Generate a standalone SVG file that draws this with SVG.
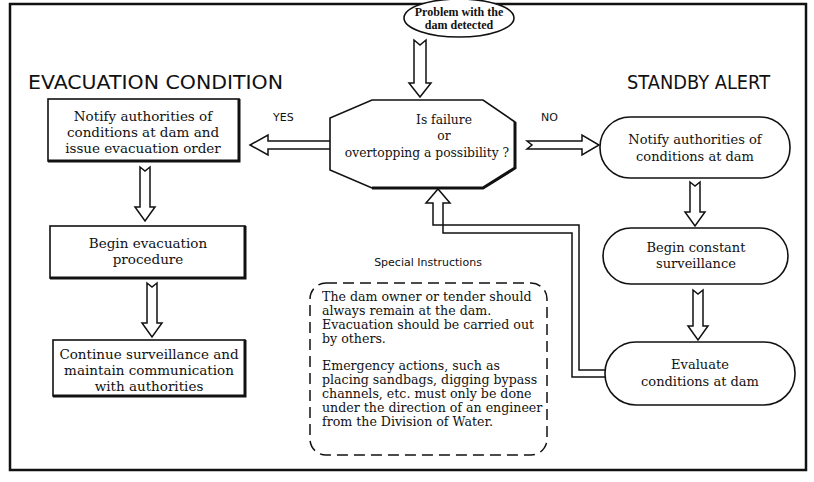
<svg xmlns="http://www.w3.org/2000/svg" width="814" height="482" viewBox="0 0 814 482">
<style>
  .bg{fill:#ffffff}
  .frame{fill:none;stroke:#111;stroke-width:2.5}
  .shape{fill:#fff;stroke:#111;stroke-width:1.6}
  .shadow{fill:none;stroke:#111;stroke-width:3}
  .arrow{fill:#fff;stroke:#111;stroke-width:1.5;stroke-linejoin:miter}
  .dash{fill:none;stroke:#111;stroke-width:1.5;stroke-dasharray:11 6}
  .t{font-family:"DejaVu Serif","Liberation Serif",serif;font-size:13.5px;fill:#111;text-anchor:middle}
  .t13{font-family:"DejaVu Serif","Liberation Serif",serif;font-size:13px;fill:#111;text-anchor:middle}
  .toct{font-family:"DejaVu Serif","Liberation Serif",serif;font-size:12.3px;fill:#111;text-anchor:middle}
  .ttop{font-family:"Liberation Serif","Times New Roman",serif;font-size:12px;font-weight:bold;fill:#111;text-anchor:middle}
  .tl{font-family:"DejaVu Serif","Liberation Serif",serif;font-size:12.6px;fill:#111}
  .title{font-family:"DejaVu Sans","Liberation Sans",sans-serif;font-size:19px;fill:#111}
  .lbl{font-family:"DejaVu Sans","Liberation Sans",sans-serif;font-size:11px;fill:#111}
</style>
<rect class="bg" x="0" y="0" width="814" height="482"/>
<rect class="frame" x="10" y="4" width="796" height="466"/>

<text class="title" x="28" y="89" textLength="255" lengthAdjust="spacingAndGlyphs">EVACUATION CONDITION</text>
<text class="title" x="627" y="89" textLength="143" lengthAdjust="spacingAndGlyphs">STANDBY ALERT</text>

<g id="connectors">
  <!-- start to decision -->
  <path class="arrow" d="M414,40 L420,45 L426,40 L426,83 L431,83 L420,97 L409,83 L414,83 Z"/>
  <!-- YES -->
  <path class="arrow" d="M336,141 L331,145 L336,149 L268,149 L268,155 L250,145 L268,135 L268,141 Z"/>
  <!-- NO -->
  <path class="arrow" d="M527,141 L532,145 L527,149 L582,149 L582,155 L599,145 L582,135 L582,141 Z"/>
  <!-- left column -->
  <path class="arrow" d="M140,167 L145,171 L150,167 L150,207 L155,207 L145,221 L135,207 L140,207 Z"/>
  <path class="arrow" d="M147,283 L152,287 L157,283 L157,323 L162,323 L152,337 L142,323 L147,323 Z"/>
  <!-- right column -->
  <path class="arrow" d="M690,182 L695,186 L700,182 L700,212 L705,212 L695,226 L685,212 L690,212 Z"/>
  <path class="arrow" d="M693,290 L698,294 L703,290 L703,326 L708,326 L698,340 L688,326 L693,326 Z"/>
  <!-- feedback loop -->
  <path class="arrow" d="M608,377 L572,377 L572,233 L443,233 L443,203 L450,203 L438,189 L426,203 L433,203 L433,225 L579,225 L579,370 L608,370"/>
  <text class="lbl" x="273" y="121">YES</text>
  <text class="lbl" x="541" y="121">NO</text>
</g>

<g id="start">
  <ellipse class="shape" cx="459" cy="18" rx="55" ry="19"/>
  <text class="ttop" x="459" y="16">Problem with the</text>
  <text class="ttop" x="459" y="29">dam detected</text>
</g>

<g id="decision">
  <polygon class="shape" points="372,100 483,100 515,122 515,168 483,188 372,188 330,170 330,118"/>
  <polyline class="shadow" points="515,122 515,168 483,188 372,188"/>
  <text class="toct" x="444" y="124">Is failure</text>
  <text class="toct" x="444" y="140">or</text>
  <text class="toct" x="427" y="157">overtopping a possibility ?</text>
</g>

<g id="evac-notify">
  <rect class="shape" x="48" y="99" width="191" height="62"/>
  <polyline class="shadow" points="239,99 239,161 48,161"/>
  <text class="t" x="143" y="121">Notify authorities of</text>
  <text class="t" x="143" y="137">conditions at dam and</text>
  <text class="t" x="143" y="153">issue evacuation order</text>
</g>

<g id="evac-begin">
  <rect class="shape" x="50" y="226" width="195" height="52"/>
  <polyline class="shadow" points="245,226 245,278 50,278"/>
  <text class="t" x="148" y="248">Begin evacuation</text>
  <text class="t" x="148" y="264">procedure</text>
</g>

<g id="evac-continue">
  <rect class="shape" x="53" y="340" width="192" height="56"/>
  <polyline class="shadow" points="245,340 245,396 53,396"/>
  <text class="t" x="149" y="359">Continue surveillance and</text>
  <text class="t" x="149" y="375">maintain communication</text>
  <text class="t" x="149" y="391">with authorities</text>
</g>

<g id="standby-notify">
  <rect class="shape" x="600" y="117" width="190" height="61" rx="30" ry="30"/>
  <text class="t13" x="695" y="144">Notify authorities of</text>
  <text class="t13" x="695" y="161">conditions at dam</text>
</g>

<g id="standby-surveil">
  <rect class="shape" x="603" y="228" width="185" height="56" rx="28" ry="28"/>
  <text class="t13" x="696" y="252">Begin constant</text>
  <text class="t13" x="696" y="268">surveillance</text>
</g>

<g id="standby-evaluate">
  <rect class="shape" x="605" y="342" width="190" height="63" rx="31" ry="31"/>
  <text class="t13" x="700" y="369">Evaluate</text>
  <text class="t13" x="700" y="386">conditions at dam</text>
</g>

<g id="special">
  <text class="lbl" x="428" y="266" text-anchor="middle">Special Instructions</text>
  <rect class="dash" x="310" y="283" width="237" height="172" rx="16" ry="16"/>
  <text class="tl" x="322" y="301">The dam owner or tender should</text>
  <text class="tl" x="322" y="315">always remain at the dam.</text>
  <text class="tl" x="322" y="329">Evacuation should be carried out</text>
  <text class="tl" x="322" y="343">by others.</text>
  <text class="tl" x="322" y="370">Emergency actions, such as</text>
  <text class="tl" x="322" y="384">placing sandbags, digging bypass</text>
  <text class="tl" x="322" y="398">channels, etc. must only be done</text>
  <text class="tl" x="322" y="412">under the direction of an engineer</text>
  <text class="tl" x="322" y="426">from the Division of Water.</text>
</g>
</svg>
